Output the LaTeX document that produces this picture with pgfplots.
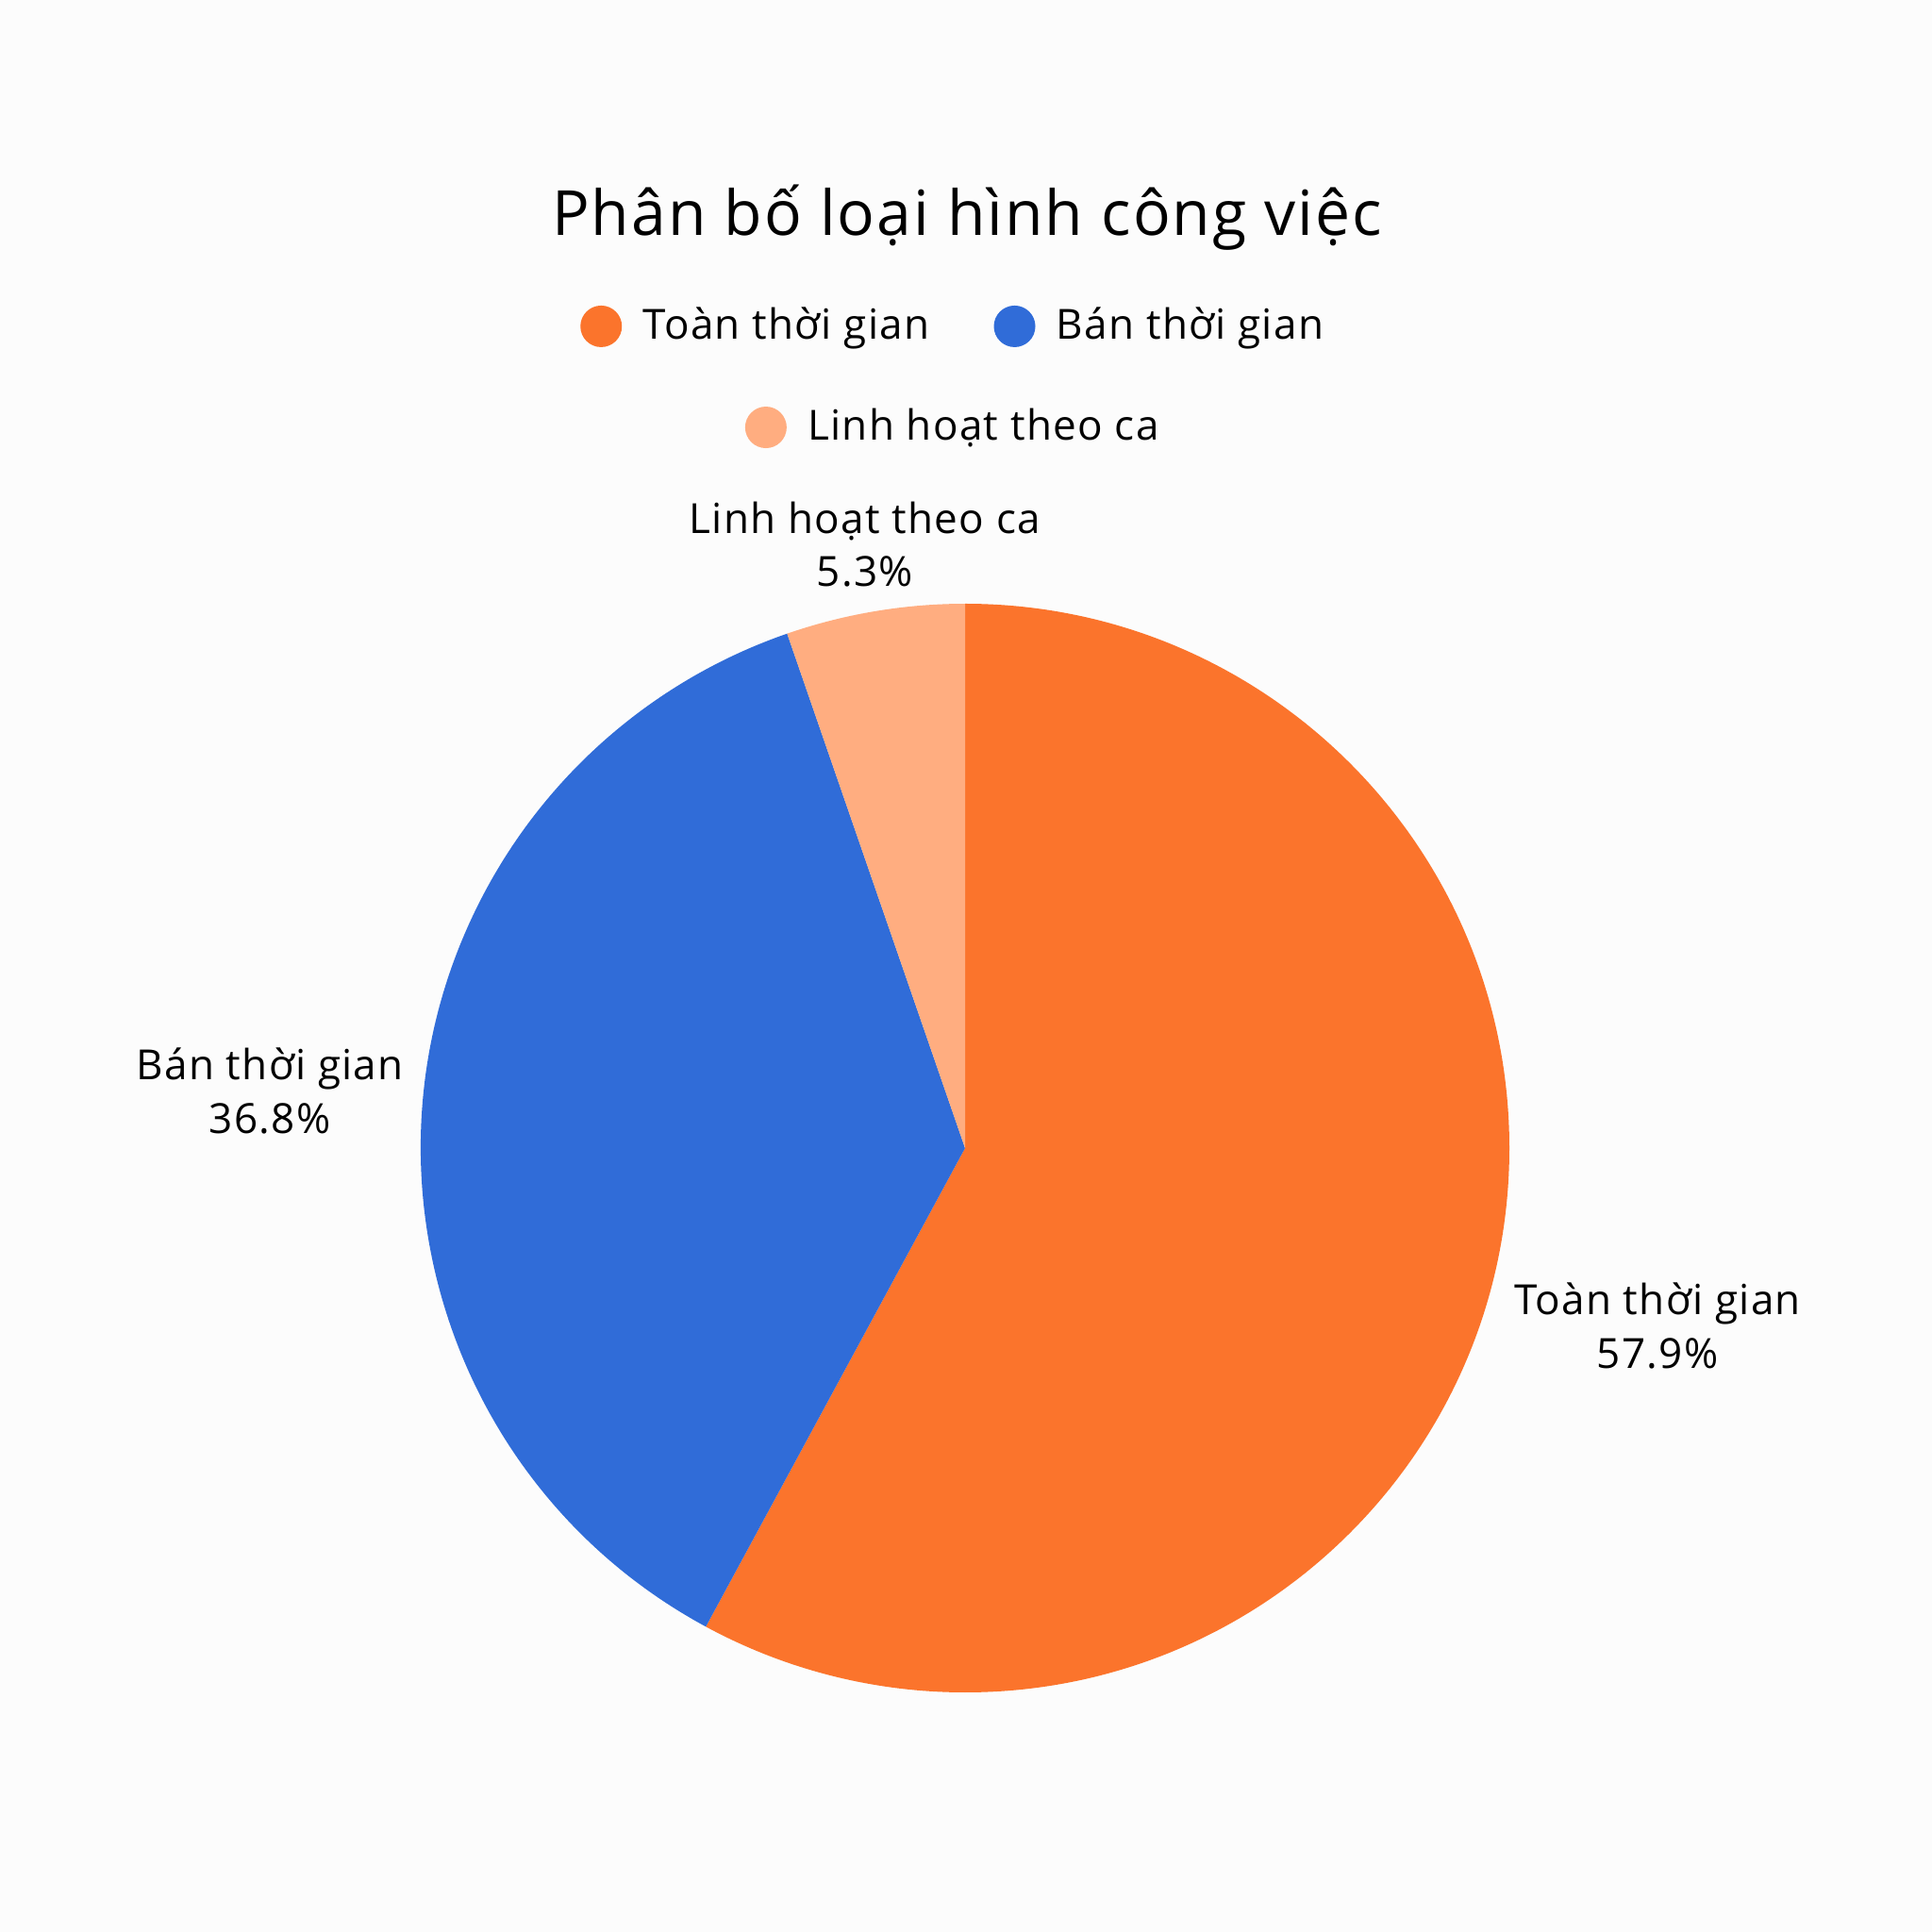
\documentclass[border=0pt]{standalone}
\usepackage{fontspec}
\setmainfont{Open Sans}[LetterSpace=3]
\usepackage{pgfplots}
\usepackage{pgfplotstable}
\pgfplotsset{compat=1.18}

\definecolor{bgcol}{HTML}{FCFCFC}
\definecolor{fulltime}{HTML}{FB742C}
\definecolor{parttime}{HTML}{306CD8}
\definecolor{shiftwork}{HTML}{FFAD80}

% share of each job type (%)
\pgfplotstableread[col sep=comma]{
type,value
Toàn thời gian,57.9
Bán thời gian,36.8
Linh hoạt theo ca,5.3
}\jobtypes

\pgfplotstablegetelem{0}{value}\of\jobtypes \let\vA\pgfplotsretval
\pgfplotstablegetelem{1}{value}\of\jobtypes \let\vB\pgfplotsretval
\pgfplotstablegetelem{2}{value}\of\jobtypes \let\vC\pgfplotsretval

% slices run clockwise from 12 o'clock
\pgfmathsetmacro\aA{90}
\pgfmathsetmacro\aB{\aA-3.6*\vA}
\pgfmathsetmacro\aC{\aB-3.6*\vB}
\pgfmathsetmacro\aD{\aC-3.6*\vC}
\def\R{144.25pt}

\pgfplotsset{
  pieaxis/.style={
    at={(255.75pt,207.75pt)}, anchor=center,
    scale only axis, width=288.5pt, height=288.5pt,
    xmin=-1, xmax=1, ymin=-1, ymax=1,
    hide axis, clip=false,
    legend image code/.code={\fill[##1] (0pt,0pt) circle (5.3pt);},
    legend style={draw=none, fill=none, font=\fontsize{11}{13}\selectfont,
      /tikz/every odd column/.append style={column sep=3.6pt},
      /tikz/every even column/.append style={column sep=15pt}},
  },
}

\begin{document}
\begin{tikzpicture}
\fill[bgcol] (0,0) rectangle (512pt,512pt);
\node[anchor=base, font=\fontsize{16.5}{19}\selectfont] at (256.25pt,449.5pt) {Phân bố loại hình công việc};

\begin{axis}[pieaxis,
  legend columns=2,
  legend style={at={(0.4915,1.2548)}, anchor=center}]
  \fill[fulltime] (axis cs:0,0) -- (axis cs:{cos(\aA)},{sin(\aA)}) arc[start angle=\aA, end angle=\aB, radius=\R] -- cycle;
  \fill[parttime] (axis cs:0,0) -- (axis cs:{cos(\aB)},{sin(\aB)}) arc[start angle=\aB, end angle=\aC, radius=\R] -- cycle;
  \fill[shiftwork] (axis cs:0,0) -- (axis cs:{cos(\aC)},{sin(\aC)}) arc[start angle=\aC, end angle=\aD, radius=\R] -- cycle;

  \node[align=center, font=\fontsize{11}{14.2}\selectfont] at (axis cs:1.272,-0.326) {Toàn thời gian\\57.9\%};
  \node[align=center, font=\fontsize{11}{14.2}\selectfont] at (axis cs:-1.277,0.105) {Bán thời gian\\36.8\%};
  \node[align=center, font=\fontsize{11}{14.2}\selectfont] at (axis cs:-0.184,1.109) {Linh hoạt theo ca\\5.3\%};

  \addlegendimage{fulltime}
  \addlegendentry{Toàn thời gian}
  \addlegendimage{parttime}
  \addlegendentry{Bán thời gian}
\end{axis}

\begin{axis}[pieaxis,
  legend style={at={(0.4915,1.162)}, anchor=center}]
  \addlegendimage{shiftwork}
  \addlegendentry{Linh hoạt theo ca}
\end{axis}
\end{tikzpicture}
\end{document}
